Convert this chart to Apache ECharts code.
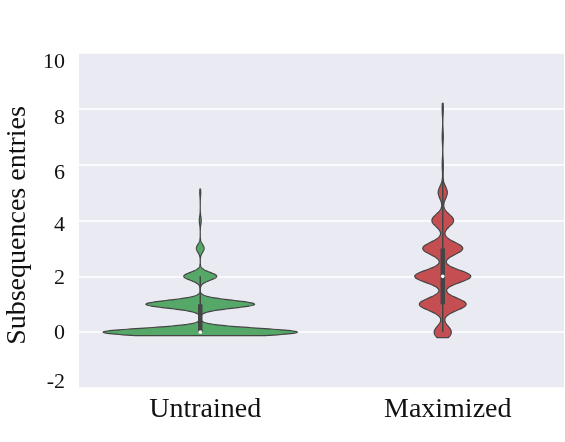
<!DOCTYPE html>
<html>
<head>
<meta charset="utf-8">
<script src="https://cdn.jsdelivr.net/npm/echarts@6/dist/echarts.min.js"></script>
<style>
  html, body { margin: 0; padding: 0; background: #fff; }
  #chart { width: 565px; height: 442px; }
</style>
</head>
<body>
<div id="chart"></div>
<script>
const categories = ["Untrained", "Maximized"];
const entryValues = [0, 1, 2, 3, 4, 5, 6, 7, 8];
const untrainedCounts = [200, 112, 34, 8, 2, 1, 0, 0, 0];
const maximizedCounts = [15, 41, 49, 35, 19, 8, 1, 1, 1];
const yTicks = [-2, 0, 2, 4, 6, 8, 10];

const countsByCat = [untrainedCounts, maximizedCounts];
const fillColors = ["#55a868", "#c44e52"];
const bandwidths = [0.14, 0.22];
const halfWidthFrac = [0.4, 0.1155]; // widest point as share of category band
const lineColor = "#454545";
// the tick labels in the source sit a little off their gridlines
const labelShift = { "-2": -6, "0": 1, "2": 2, "4": 5, "6": 9, "8": 9, "10": 9 };

function expand(counts) {
  const s = [];
  counts.forEach((c, i) => { for (let k = 0; k < c; k++) s.push(entryValues[i]); });
  return s;
}

function quantile(sorted, q) {
  const pos = (sorted.length - 1) * q;
  const lo = Math.floor(pos), hi = Math.ceil(pos);
  return sorted[lo] + (sorted[hi] - sorted[lo]) * (pos - lo);
}

function boxStats(counts) {
  const s = expand(counts).sort((a, b) => a - b);
  const q1 = quantile(s, 0.25), med = quantile(s, 0.5), q3 = quantile(s, 0.75);
  const iqr = q3 - q1;
  const lowW = Math.min(...s.filter(v => v >= q1 - 1.5 * iqr));
  const highW = Math.max(...s.filter(v => v <= q3 + 1.5 * iqr));
  return { q1, med, q3, lowW, highW, min: s[0], max: s[s.length - 1] };
}

function density(counts, bw, y) {
  let d = 0;
  counts.forEach((c, i) => {
    const z = (y - entryValues[i]) / bw;
    d += c * Math.exp(-0.5 * z * z);
  });
  return d;
}

function renderViolin(params, api) {
  const idx = api.value(0);
  const counts = countsByCat[idx];
  const bw = bandwidths[idx];
  const st = boxStats(counts);
  const lo = st.min - 0.9 * bw, hi = st.max + 0.9 * bw;
  const steps = 500;
  const ys = [], ds = [];
  let dmax = 0;
  for (let i = 0; i <= steps; i++) {
    const y = lo + (hi - lo) * i / steps;
    const d = density(counts, bw, y);
    ys.push(y); ds.push(d);
    if (d > dmax) dmax = d;
  }
  const cx = api.coord([idx, 0])[0];
  const half = api.size([1, 0])[0] * halfWidthFrac[idx];
  const right = [], left = [];
  for (let i = 0; i <= steps; i++) {
    const py = api.coord([idx, ys[i]])[1];
    const w = half * ds[i] / dmax;
    right.push([cx + w, py]);
    left.push([cx - w, py]);
  }
  const pts = right.concat(left.reverse());
  const yOf = v => api.coord([idx, v])[1];
  return {
    type: "group",
    children: [
      {
        type: "polygon",
        shape: { points: pts },
        style: { fill: fillColors[idx], stroke: lineColor, lineWidth: 1.2 }
      },
      {
        type: "line",
        shape: { x1: cx, y1: yOf(st.lowW), x2: cx, y2: yOf(st.highW) },
        style: { stroke: lineColor, lineWidth: 1.5 }
      },
      {
        type: "line",
        shape: { x1: cx, y1: yOf(st.q1), x2: cx, y2: yOf(st.q3) },
        style: { stroke: lineColor, lineWidth: 4.5 }
      },
      {
        type: "circle",
        shape: { cx: cx, cy: yOf(st.med), r: 1.8 },
        style: { fill: "#ffffff" }
      }
    ]
  };
}

const labelRich = {};
yTicks.forEach((t, i) => {
  const s = labelShift[String(t)] || 0;
  labelRich["t" + i] = {
    fontFamily: "Liberation Serif", fontSize: 22, color: "#111",
    padding: s >= 0 ? [2 * s, 0, 0, 0] : [0, 0, -2 * s, 0]
  };
});

const chart = echarts.init(document.getElementById("chart"));
chart.setOption({
  animation: false,
  backgroundColor: "#ffffff",
  grid: {
    left: 79, right: 1, top: 53, bottom: 54,
    outerBoundsMode: "none", containLabel: false,
    show: true, backgroundColor: "#eaeaf2", borderWidth: 0
  },
  xAxis: {
    type: "category",
    data: categories,
    axisLine: { show: false },
    axisTick: { show: false },
    axisLabel: {
      color: "#111", fontFamily: "Liberation Serif", fontSize: 28, margin: 8,
      padding: [0, 0, 0, 10]
    },
    splitLine: { show: false }
  },
  yAxis: {
    type: "value",
    min: yTicks[0],
    max: yTicks[yTicks.length - 1],
    interval: 2,
    name: "Subsequences entries",
    nameLocation: "middle",
    nameGap: 41,
    nameTextStyle: { color: "#111", fontFamily: "Liberation Serif", fontSize: 28, padding: [0, 10, 0, 0] },
    axisLine: { show: false },
    axisTick: { show: false },
    axisLabel: {
      margin: 14,
      formatter: v => "{t" + yTicks.indexOf(v) + "|" + v + "}",
      rich: labelRich
    },
    splitLine: { lineStyle: { color: "#ffffff", width: 1.5 } }
  },
  series: [{
    type: "custom",
    renderItem: renderViolin,
    data: categories.map((c, i) => [i]),
    encode: { x: 0 },
    silent: true
  }]
});
</script>
</body>
</html>
